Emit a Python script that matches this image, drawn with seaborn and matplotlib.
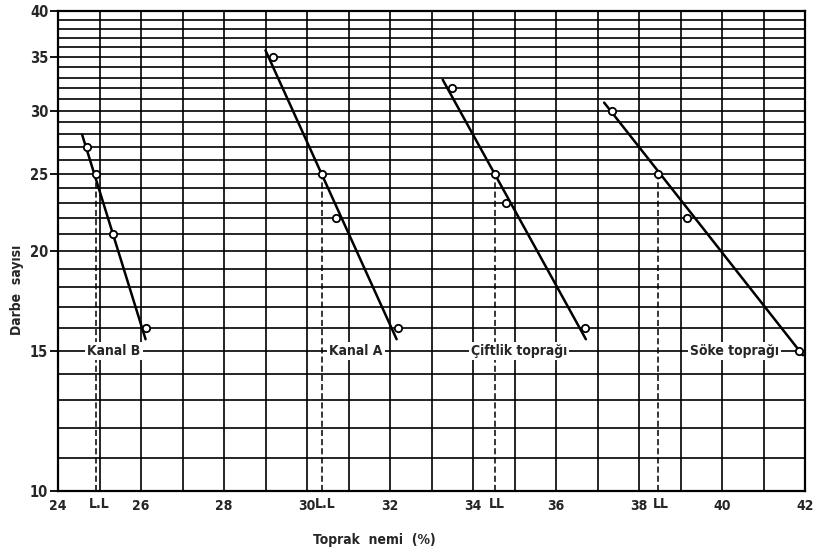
import numpy as np
import pandas as pd
import seaborn as sns
import matplotlib
matplotlib.use("Agg")
import matplotlib.pyplot as plt
from matplotlib import font_manager as fm
from matplotlib.ticker import FixedLocator, NullFormatter

### 1. Data (soil moisture % vs number of blows)
soils = ["Kanal B", "Kanal A", "Çiftlik toprağı", "Söke toprağı"]

kanal_b_x = [24.70, 24.92, 25.33, 26.12]
kanal_b_y = [27, 25, 21, 16]
kanal_a_x = [29.19, 30.37, 30.69, 32.20]
kanal_a_y = [35, 25, 22, 16]
ciftlik_x = [33.49, 34.52, 34.79, 36.69]
ciftlik_y = [32, 25, 23, 16]
soke_x = [37.36, 38.45, 39.16, 41.86]
soke_y = [30, 25, 22, 15]

# flow lines drawn through the points (start / end)
flow_x = [[24.58, 26.11], [29.00, 32.16], [33.27, 36.72], [37.16, 41.95]]
flow_y = [[28.0, 15.5], [35.7, 15.5], [32.8, 15.5], [30.7, 14.8]]

# liquid limit (moisture at 25 blows)
liquid_limit = [24.92, 30.37, 34.52, 38.45]
ll_labels = ["L.L", "L.L", "LL", "LL"]
ll_blows = 25

# where the soil names are written
label_x = [25.35, 31.18, 35.11, 40.31]
label_y = 15

x_ticks = [24, 26, 28, 30, 32, 34, 36, 38, 40, 42]
y_ticks = [10, 15, 20, 25, 30, 35, 40]

pts = pd.DataFrame({
    "nem": kanal_b_x + kanal_a_x + ciftlik_x + soke_x,
    "darbe": kanal_b_y + kanal_a_y + ciftlik_y + soke_y,
    "zemin": sum([[s] * 4 for s in soils], []),
})
lines = pd.DataFrame({
    "nem": sum(flow_x, []),
    "darbe": sum(flow_y, []),
    "zemin": sum([[s] * 2 for s in soils], []),
})

### 2. Plot
sns.set_theme(style="white")

# the original lettering is a narrow technical font
installed = {(f.name, str(f.stretch)) for f in fm.fontManager.ttflist}
if any(n == "Liberation Sans Narrow" for n, _ in installed):
    plt.rcParams["font.family"] = ["Liberation Sans Narrow", "DejaVu Sans"]
    fs = 11
elif ("DejaVu Sans", "condensed") in installed:
    plt.rcParams["font.family"] = ["DejaVu Sans"]
    plt.rcParams["font.stretch"] = "condensed"
    fs = 10
else:
    plt.rcParams["font.family"] = ["DejaVu Sans"]
    fs = 8.5
plt.rcParams["font.weight"] = "bold"

fig = plt.figure(figsize=(8.14, 5.54), dpi=100)
ax = fig.add_axes([58 / 814, 1 - 491 / 554, 747 / 814, 480 / 554])
ax.set_yscale("log")

black = {s: "black" for s in soils}
sns.lineplot(data=lines, x="nem", y="darbe", hue="zemin", palette=black,
             estimator=None, sort=False, lw=1.8, legend=False, ax=ax, zorder=4)
sns.scatterplot(data=pts, x="nem", y="darbe", hue="zemin", palette=black,
                s=28, facecolor="white", linewidth=1.3, legend=False, ax=ax,
                zorder=5)
for sc in ax.collections:
    sc.set_facecolor("white")
    sc.set_edgecolor("black")

# dashed lines down from the liquid limit, with L.L written under the axis
ax.vlines(liquid_limit, 10, ll_blows, colors="black", linestyles=(0, (4, 2)),
          lw=1.1, zorder=3)
for llx, txt in zip(liquid_limit, ll_labels):
    ax.annotate(txt, xy=(llx, 0), xycoords=ax.get_xaxis_transform(),
                xytext=(2, -4), textcoords="offset points",
                ha="center", va="top", fontsize=fs, fontweight="bold")

for name, lx in zip(soils, label_x):
    ax.text(lx, label_y, name, ha="center", va="center", fontsize=fs,
            fontweight="bold", zorder=6,
            bbox=dict(fc="white", ec="none", pad=1.5))

ax.set_xlim(24, 42)
ax.set_ylim(10, 40)

ax.set_xticks(x_ticks)
ax.set_xticklabels([str(t) for t in x_ticks])
ax.set_yticks(y_ticks)
ax.set_yticklabels([str(t) for t in y_ticks])
ax.yaxis.set_minor_formatter(NullFormatter())
ax.xaxis.set_minor_locator(FixedLocator(np.arange(24, 43, 1)))
ax.yaxis.set_minor_locator(FixedLocator(np.arange(10, 41, 1)))
# keep grid lines that sit on a labelled tick too
ax.xaxis.remove_overlapping_locs = False
ax.yaxis.remove_overlapping_locs = False
ax.grid(False, which="major")
ax.grid(True, which="minor", color="black", lw=1.2)
ax.tick_params(axis="x", which="major", length=0, pad=6, labelsize=fs)
ax.tick_params(axis="y", which="major", length=6, width=1.3, pad=1,
               labelsize=fs + 0.5, left=True, color="black")
ax.tick_params(which="minor", length=0)
for lab in ax.get_xticklabels() + ax.get_yticklabels():
    lab.set_fontweight("bold")

for sp in ax.spines.values():
    sp.set_color("black")
    sp.set_linewidth(1.6)

ax.set_xlabel("Toprak  nemi  (%)", fontsize=fs, fontweight="bold")
ax.set_ylabel("Darbe  sayısı", fontsize=fs, fontweight="bold")
ax.xaxis.set_label_coords((374 - 58) / 747, -0.088)
ax.yaxis.set_label_coords(-0.045, 0.42)

fig.savefig("out.png", dpi=100)
